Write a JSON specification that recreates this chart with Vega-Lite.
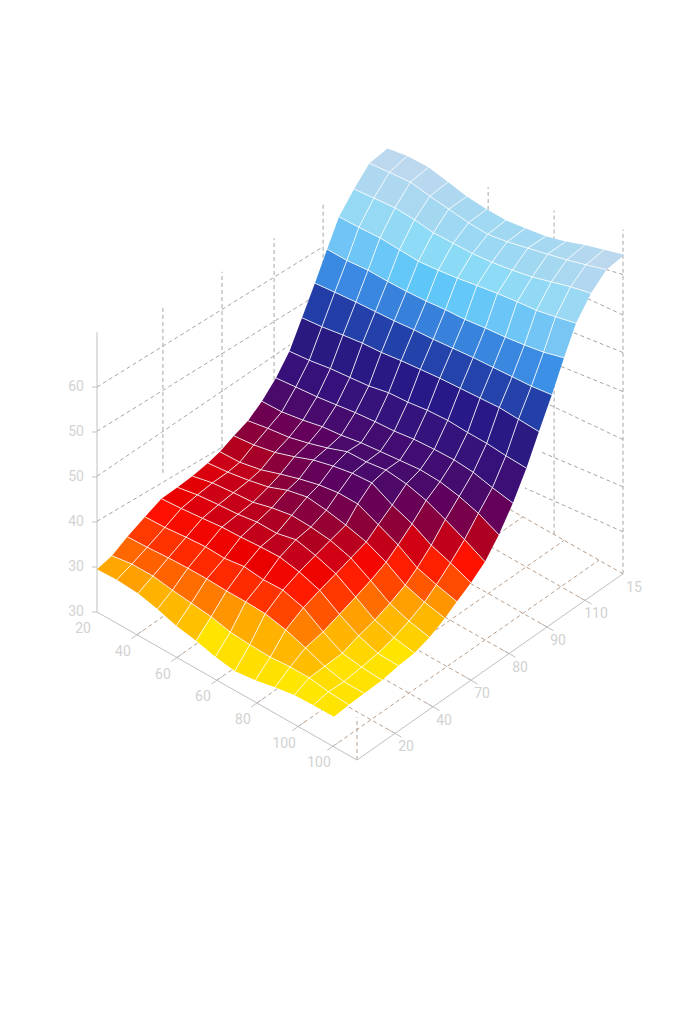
{"$schema":"https://vega.github.io/schema/vega-lite/v6.json","width":683,"height":1024,"padding":0,"autosize":{"type":"none"},"background":"white","config":{"view":{"stroke":null}},
"datasets":{
"labels":[
{"a":"z","t":"60","x":20,"y":0,"z":60},{"a":"z","t":"50","x":20,"y":0,"z":54},{"a":"z","t":"50","x":20,"y":0,"z":48},{"a":"z","t":"40","x":20,"y":0,"z":42},{"a":"z","t":"30","x":20,"y":0,"z":36},{"a":"z","t":"30","x":20,"y":0,"z":30},
{"a":"x","t":"20","x":20,"y":0,"z":30},{"a":"x","t":"40","x":32.3,"y":0,"z":30},{"a":"x","t":"60","x":44.6,"y":0,"z":30},{"a":"x","t":"60","x":56.9,"y":0,"z":30},{"a":"x","t":"80","x":69.2,"y":0,"z":30},{"a":"x","t":"100","x":81.9,"y":0,"z":30},{"a":"x","t":"100","x":92.6,"y":0,"z":30},
{"a":"y","t":"20","x":100,"y":20,"z":30},{"a":"y","t":"40","x":100,"y":40,"z":30},{"a":"y","t":"70","x":100,"y":60,"z":30},{"a":"y","t":"80","x":100,"y":80,"z":30},{"a":"y","t":"90","x":100,"y":100,"z":30},{"a":"y","t":"110","x":100,"y":120,"z":30},{"a":"y","t":"15","x":100,"y":140,"z":30}],
"guides":[
{"l":"a1","k":"axis","s":0,"x":20,"y":0,"z":30},{"l":"a1","k":"axis","s":1,"x":20,"y":0,"z":67.3},
{"l":"a2","k":"axis","s":0,"x":20,"y":0,"z":30},{"l":"a2","k":"axis","s":1,"x":100,"y":0,"z":30},
{"l":"a3","k":"axis","s":0,"x":100,"y":0,"z":30},{"l":"a3","k":"axis","s":1,"x":100,"y":140,"z":30},
{"l":"tz60","k":"axis","s":0,"x":20,"y":-2.6,"z":60.46},{"l":"tz60","k":"axis","s":1,"x":20,"y":0,"z":60},
{"l":"tz54","k":"axis","s":0,"x":20,"y":-2.6,"z":54.46},{"l":"tz54","k":"axis","s":1,"x":20,"y":0,"z":54},
{"l":"tz48","k":"axis","s":0,"x":20,"y":-2.6,"z":48.46},{"l":"tz48","k":"axis","s":1,"x":20,"y":0,"z":48},
{"l":"tz42","k":"axis","s":0,"x":20,"y":-2.6,"z":42.46},{"l":"tz42","k":"axis","s":1,"x":20,"y":0,"z":42},
{"l":"tz36","k":"axis","s":0,"x":20,"y":-2.6,"z":36.46},{"l":"tz36","k":"axis","s":1,"x":20,"y":0,"z":36},
{"l":"tz30","k":"axis","s":0,"x":20,"y":-2.6,"z":30.46},{"l":"tz30","k":"axis","s":1,"x":20,"y":0,"z":30},
{"l":"tx1","k":"axis","s":0,"x":32.3,"y":-3,"z":30},{"l":"tx1","k":"axis","s":1,"x":32.3,"y":3,"z":30},
{"l":"tx2","k":"axis","s":0,"x":44.6,"y":-3,"z":30},{"l":"tx2","k":"axis","s":1,"x":44.6,"y":3,"z":30},
{"l":"tx3","k":"axis","s":0,"x":56.9,"y":-3,"z":30},{"l":"tx3","k":"axis","s":1,"x":56.9,"y":3,"z":30},
{"l":"tx4","k":"axis","s":0,"x":69.2,"y":-3,"z":30},{"l":"tx4","k":"axis","s":1,"x":69.2,"y":3,"z":30},
{"l":"tx5","k":"axis","s":0,"x":81.9,"y":-3,"z":30},{"l":"tx5","k":"axis","s":1,"x":81.9,"y":3,"z":30},
{"l":"tx6","k":"axis","s":0,"x":92.6,"y":-3,"z":30},{"l":"tx6","k":"axis","s":1,"x":92.6,"y":3,"z":30},
{"l":"ty1","k":"axis","s":0,"x":102,"y":20,"z":30},{"l":"ty1","k":"axis","s":1,"x":98,"y":20,"z":30},
{"l":"ty2","k":"axis","s":0,"x":102,"y":40,"z":30},{"l":"ty2","k":"axis","s":1,"x":98,"y":40,"z":30},
{"l":"ty3","k":"axis","s":0,"x":102,"y":60,"z":30},{"l":"ty3","k":"axis","s":1,"x":98,"y":60,"z":30},
{"l":"ty4","k":"axis","s":0,"x":102,"y":80,"z":30},{"l":"ty4","k":"axis","s":1,"x":98,"y":80,"z":30},
{"l":"ty5","k":"axis","s":0,"x":102,"y":100,"z":30},{"l":"ty5","k":"axis","s":1,"x":98,"y":100,"z":30},
{"l":"ty6","k":"axis","s":0,"x":102,"y":120,"z":30},{"l":"ty6","k":"axis","s":1,"x":98,"y":120,"z":30},
{"l":"w1","k":"wall","s":0,"x":20,"y":0,"z":60},{"l":"w1","k":"wall","s":1,"x":20,"y":119,"z":57.6},
{"l":"w2","k":"wall","s":0,"x":20,"y":0,"z":54.1},{"l":"w2","k":"wall","s":1,"x":20,"y":113.7,"z":51.8},
{"l":"w3","k":"wall","s":0,"x":20,"y":0,"z":48.1},{"l":"w3","k":"wall","s":1,"x":20,"y":101.6,"z":47.6},
{"l":"w4","k":"wall","s":0,"x":20,"y":0,"z":42.1},{"l":"w4","k":"wall","s":1,"x":20,"y":65.8,"z":40.3},
{"l":"v1","k":"wall","s":0,"x":20,"y":34.7,"z":42.4},{"l":"v1","k":"wall","s":1,"x":20,"y":34.7,"z":64.5},
{"l":"v2","k":"wall","s":0,"x":20,"y":65.8,"z":40.2},{"l":"v2","k":"wall","s":1,"x":20,"y":65.8,"z":63.7},
{"l":"v3","k":"wall","s":0,"x":20,"y":93.2,"z":44.4},{"l":"v3","k":"wall","s":1,"x":20,"y":93.2,"z":63.3},
{"l":"v4","k":"wall","s":0,"x":20,"y":119,"z":55.2},{"l":"v4","k":"wall","s":1,"x":20,"y":119,"z":63.2},
{"l":"v5","k":"wall","s":0,"x":100,"y":140,"z":30},{"l":"v5","k":"wall","s":1,"x":100,"y":140,"z":75.9},
{"l":"v6","k":"wall","s":0,"x":78.8,"y":140,"z":30},{"l":"v6","k":"wall","s":1,"x":78.8,"y":140,"z":73.2},
{"l":"v7","k":"wall","s":0,"x":58.5,"y":140,"z":30},{"l":"v7","k":"wall","s":1,"x":58.5,"y":140,"z":71.3},
{"l":"v8","k":"floor","s":0,"x":100,"y":0,"z":30},{"l":"v8","k":"floor","s":1,"x":100,"y":0,"z":35.7},
{"l":"r1","k":"wall","s":0,"x":100,"y":140,"z":69.9},{"l":"r1","k":"wall","s":1,"x":93.2,"y":140,"z":69.1},
{"l":"r2","k":"wall","s":0,"x":100,"y":140,"z":64.5},{"l":"r2","k":"wall","s":1,"x":86.8,"y":140,"z":63.9},
{"l":"r3","k":"wall","s":0,"x":100,"y":140,"z":59.5},{"l":"r3","k":"wall","s":1,"x":80.6,"y":140,"z":58.1},
{"l":"r4","k":"wall","s":0,"x":100,"y":140,"z":54.3},{"l":"r4","k":"wall","s":1,"x":77.5,"y":140,"z":52.7},
{"l":"r5","k":"wall","s":0,"x":100,"y":140,"z":47.9},{"l":"r5","k":"wall","s":1,"x":76,"y":140,"z":46.9},
{"l":"r6","k":"wall","s":0,"x":100,"y":140,"z":41.6},{"l":"r6","k":"wall","s":1,"x":74.5,"y":140,"z":40},
{"l":"r7","k":"wall","s":0,"x":100,"y":140,"z":35.6},{"l":"r7","k":"wall","s":1,"x":69.8,"y":140,"z":34},
{"l":"f1","k":"floor","s":0,"x":100,"y":20,"z":30},{"l":"f1","k":"floor","s":1,"x":20,"y":20,"z":30},
{"l":"f2","k":"floor","s":0,"x":100,"y":40,"z":30},{"l":"f2","k":"floor","s":1,"x":20,"y":40,"z":30},
{"l":"f3","k":"floor","s":0,"x":100,"y":60,"z":30},{"l":"f3","k":"floor","s":1,"x":20,"y":60,"z":30},
{"l":"f4","k":"floor","s":0,"x":100,"y":80,"z":30},{"l":"f4","k":"floor","s":1,"x":20,"y":80,"z":30},
{"l":"f5","k":"floor","s":0,"x":100,"y":100,"z":30},{"l":"f5","k":"floor","s":1,"x":20,"y":100,"z":30},
{"l":"f6","k":"floor","s":0,"x":100,"y":120,"z":30},{"l":"f6","k":"floor","s":1,"x":20,"y":120,"z":30},
{"l":"f7","k":"floor","s":0,"x":100,"y":140,"z":30},{"l":"f7","k":"floor","s":1,"x":20,"y":140,"z":30},
{"l":"g1","k":"floor","s":0,"x":32.3,"y":0,"z":30},{"l":"g1","k":"floor","s":1,"x":32.3,"y":140,"z":30},
{"l":"g2","k":"floor","s":0,"x":44.6,"y":0,"z":30},{"l":"g2","k":"floor","s":1,"x":44.6,"y":140,"z":30},
{"l":"g3","k":"floor","s":0,"x":56.9,"y":0,"z":30},{"l":"g3","k":"floor","s":1,"x":56.9,"y":140,"z":30},
{"l":"g4","k":"floor","s":0,"x":69.2,"y":0,"z":30},{"l":"g4","k":"floor","s":1,"x":69.2,"y":140,"z":30},
{"l":"g5","k":"floor","s":0,"x":81.9,"y":0,"z":30},{"l":"g5","k":"floor","s":1,"x":81.9,"y":140,"z":30},
{"l":"g6","k":"floor","s":0,"x":92.6,"y":0,"z":30},{"l":"g6","k":"floor","s":1,"x":92.6,"y":140,"z":30}],
"surface":[
{"c":0,"r":0,"x":20,"y":0,"z":35.7},{"c":1,"r":0,"x":26.1,"y":0,"z":35.8},{"c":2,"r":0,"x":32.6,"y":0,"z":35.6},{"c":3,"r":0,"x":38.6,"y":0,"z":35},{"c":4,"r":0,"x":44.4,"y":0,"z":34.2},{"c":5,"r":0,"x":50.5,"y":0,"z":33.7},{"c":6,"r":0,"x":56.4,"y":0,"z":33},{"c":7,"r":0,"x":62.4,"y":0,"z":32.6},{"c":8,"r":0,"x":68.7,"y":0,"z":32.9},{"c":9,"r":0,"x":74.8,"y":0,"z":33.5},{"c":10,"r":0,"x":80.7,"y":0,"z":33.9},{"c":11,"r":0,"x":86.6,"y":0,"z":34},{"c":12,"r":0,"x":92.9,"y":0,"z":34},
{"c":0,"r":1,"x":20,"y":7.9,"z":36.1},{"c":1,"r":1,"x":26.1,"y":7.9,"z":36.5},{"c":2,"r":1,"x":32.6,"y":7.9,"z":36.5},{"c":3,"r":1,"x":38.6,"y":7.9,"z":36.1},{"c":4,"r":1,"x":44.4,"y":7.9,"z":35.8},{"c":5,"r":1,"x":50.5,"y":7.9,"z":35.5},{"c":6,"r":1,"x":56.4,"y":7.9,"z":34.9},{"c":7,"r":1,"x":62.4,"y":7.9,"z":34.7},{"c":8,"r":1,"x":68.7,"y":7.9,"z":34.6},{"c":9,"r":1,"x":74.8,"y":7.9,"z":34.8},{"c":10,"r":1,"x":80.7,"y":7.9,"z":34.8},{"c":11,"r":1,"x":86.6,"y":7.9,"z":34.4},{"c":12,"r":1,"x":92.9,"y":7.9,"z":34.2},
{"c":0,"r":2,"x":20,"y":16,"z":37.2},{"c":1,"r":2,"x":26.1,"y":16,"z":37.3},{"c":2,"r":2,"x":32.6,"y":16,"z":37.5},{"c":3,"r":2,"x":38.6,"y":16,"z":37.6},{"c":4,"r":2,"x":44.4,"y":16,"z":37.6},{"c":5,"r":2,"x":50.5,"y":16,"z":37.5},{"c":6,"r":2,"x":56.4,"y":16,"z":37.5},{"c":7,"r":2,"x":62.4,"y":16,"z":37.4},{"c":8,"r":2,"x":68.7,"y":16,"z":36.8},{"c":9,"r":2,"x":74.8,"y":16,"z":35.9},{"c":10,"r":2,"x":80.7,"y":16,"z":34.9},{"c":11,"r":2,"x":86.6,"y":16,"z":34.3},{"c":12,"r":2,"x":92.9,"y":16,"z":34.3},
{"c":0,"r":3,"x":20,"y":25.3,"z":38.2},{"c":1,"r":3,"x":26.1,"y":25.3,"z":38.3},{"c":2,"r":3,"x":32.6,"y":25.3,"z":38.6},{"c":3,"r":3,"x":38.6,"y":25.3,"z":38.8},{"c":4,"r":3,"x":44.4,"y":25.3,"z":38.7},{"c":5,"r":3,"x":50.5,"y":25.3,"z":39.1},{"c":6,"r":3,"x":56.4,"y":25.3,"z":38.8},{"c":7,"r":3,"x":62.4,"y":25.3,"z":38.9},{"c":8,"r":3,"x":68.7,"y":25.3,"z":38.1},{"c":9,"r":3,"x":74.8,"y":25.3,"z":36.4},{"c":10,"r":3,"x":80.7,"y":25.3,"z":35},{"c":11,"r":3,"x":86.6,"y":25.3,"z":34.6},{"c":12,"r":3,"x":92.9,"y":25.3,"z":34.4},
{"c":0,"r":4,"x":20,"y":33.9,"z":39.1},{"c":1,"r":4,"x":26.1,"y":33.9,"z":39.3},{"c":2,"r":4,"x":32.6,"y":33.9,"z":39.6},{"c":3,"r":4,"x":38.6,"y":33.9,"z":39.9},{"c":4,"r":4,"x":44.4,"y":33.9,"z":40},{"c":5,"r":4,"x":50.5,"y":33.9,"z":40.2},{"c":6,"r":4,"x":56.4,"y":33.9,"z":40.3},{"c":7,"r":4,"x":62.4,"y":33.9,"z":39.8},{"c":8,"r":4,"x":68.7,"y":33.9,"z":38.9},{"c":9,"r":4,"x":74.8,"y":33.9,"z":37.2},{"c":10,"r":4,"x":80.7,"y":33.9,"z":35.8},{"c":11,"r":4,"x":86.6,"y":33.9,"z":34.9},{"c":12,"r":4,"x":92.9,"y":33.9,"z":34.8},
{"c":0,"r":5,"x":20,"y":42.4,"z":39.1},{"c":1,"r":5,"x":26.1,"y":42.4,"z":39.6},{"c":2,"r":5,"x":32.6,"y":42.4,"z":39.9},{"c":3,"r":5,"x":38.6,"y":42.4,"z":40.1},{"c":4,"r":5,"x":44.4,"y":42.4,"z":40.5},{"c":5,"r":5,"x":50.5,"y":42.4,"z":40.5},{"c":6,"r":5,"x":56.4,"y":42.4,"z":41.1},{"c":7,"r":5,"x":62.4,"y":42.4,"z":40.5},{"c":8,"r":5,"x":68.7,"y":42.4,"z":39.6},{"c":9,"r":5,"x":74.8,"y":42.4,"z":38},{"c":10,"r":5,"x":80.7,"y":42.4,"z":36.4},{"c":11,"r":5,"x":86.6,"y":42.4,"z":35.5},{"c":12,"r":5,"x":92.9,"y":42.4,"z":35},
{"c":0,"r":6,"x":20,"y":50.3,"z":39.2},{"c":1,"r":6,"x":26.1,"y":50.3,"z":39.8},{"c":2,"r":6,"x":32.6,"y":50.3,"z":40.1},{"c":3,"r":6,"x":38.6,"y":50.3,"z":40.3},{"c":4,"r":6,"x":44.4,"y":50.3,"z":41},{"c":5,"r":6,"x":50.5,"y":50.3,"z":41.5},{"c":6,"r":6,"x":56.4,"y":50.3,"z":41.4},{"c":7,"r":6,"x":62.4,"y":50.3,"z":41.1},{"c":8,"r":6,"x":68.7,"y":50.3,"z":40.3},{"c":9,"r":6,"x":74.8,"y":50.3,"z":38.8},{"c":10,"r":6,"x":80.7,"y":50.3,"z":37.2},{"c":11,"r":6,"x":86.6,"y":50.3,"z":36.3},{"c":12,"r":6,"x":92.9,"y":50.3,"z":35.7},
{"c":0,"r":7,"x":20,"y":58.4,"z":39.5},{"c":1,"r":7,"x":26.1,"y":58.4,"z":39.8},{"c":2,"r":7,"x":32.6,"y":58.4,"z":40.3},{"c":3,"r":7,"x":38.6,"y":58.4,"z":40.9},{"c":4,"r":7,"x":44.4,"y":58.4,"z":41.9},{"c":5,"r":7,"x":50.5,"y":58.4,"z":42.5},{"c":6,"r":7,"x":56.4,"y":58.4,"z":42.2},{"c":7,"r":7,"x":62.4,"y":58.4,"z":41.7},{"c":8,"r":7,"x":68.7,"y":58.4,"z":41},{"c":9,"r":7,"x":74.8,"y":58.4,"z":39.8},{"c":10,"r":7,"x":80.7,"y":58.4,"z":38.2},{"c":11,"r":7,"x":86.6,"y":58.4,"z":37.4},{"c":12,"r":7,"x":92.9,"y":58.4,"z":36.8},
{"c":0,"r":8,"x":20,"y":64.7,"z":39.9},{"c":1,"r":8,"x":26.1,"y":64.7,"z":40},{"c":2,"r":8,"x":32.6,"y":64.7,"z":40.6},{"c":3,"r":8,"x":38.6,"y":64.7,"z":41.5},{"c":4,"r":8,"x":44.4,"y":64.7,"z":42.3},{"c":5,"r":8,"x":50.5,"y":64.7,"z":43},{"c":6,"r":8,"x":56.4,"y":64.7,"z":43.4},{"c":7,"r":8,"x":62.4,"y":64.7,"z":43.4},{"c":8,"r":8,"x":68.7,"y":64.7,"z":42.2},{"c":9,"r":8,"x":74.8,"y":64.7,"z":41},{"c":10,"r":8,"x":80.7,"y":64.7,"z":39.4},{"c":11,"r":8,"x":86.6,"y":64.7,"z":38.6},{"c":12,"r":8,"x":92.9,"y":64.7,"z":37.9},
{"c":0,"r":9,"x":20,"y":72.1,"z":40.7},{"c":1,"r":9,"x":26.1,"y":72.1,"z":41},{"c":2,"r":9,"x":32.6,"y":72.1,"z":41.6},{"c":3,"r":9,"x":38.6,"y":72.1,"z":42.5},{"c":4,"r":9,"x":44.4,"y":72.1,"z":43.5},{"c":5,"r":9,"x":50.5,"y":72.1,"z":44.2},{"c":6,"r":9,"x":56.4,"y":72.1,"z":44.7},{"c":7,"r":9,"x":62.4,"y":72.1,"z":44.9},{"c":8,"r":9,"x":68.7,"y":72.1,"z":43.5},{"c":9,"r":9,"x":74.8,"y":72.1,"z":42.5},{"c":10,"r":9,"x":80.7,"y":72.1,"z":41.1},{"c":11,"r":9,"x":86.6,"y":72.1,"z":40.2},{"c":12,"r":9,"x":92.9,"y":72.1,"z":39.1},
{"c":0,"r":10,"x":20,"y":79.5,"z":41.4},{"c":1,"r":10,"x":26.1,"y":79.5,"z":41.9},{"c":2,"r":10,"x":32.6,"y":79.5,"z":42.3},{"c":3,"r":10,"x":38.6,"y":79.5,"z":43},{"c":4,"r":10,"x":44.4,"y":79.5,"z":43.8},{"c":5,"r":10,"x":50.5,"y":79.5,"z":44.8},{"c":6,"r":10,"x":56.4,"y":79.5,"z":44.9},{"c":7,"r":10,"x":62.4,"y":79.5,"z":45.3},{"c":8,"r":10,"x":68.7,"y":79.5,"z":45},{"c":9,"r":10,"x":74.8,"y":79.5,"z":44.3},{"c":10,"r":10,"x":80.7,"y":79.5,"z":43.2},{"c":11,"r":10,"x":86.6,"y":79.5,"z":42},{"c":12,"r":10,"x":92.9,"y":79.5,"z":40.6},
{"c":0,"r":11,"x":20,"y":86.8,"z":42.7},{"c":1,"r":11,"x":26.1,"y":86.8,"z":42.8},{"c":2,"r":11,"x":32.6,"y":86.8,"z":43.3},{"c":3,"r":11,"x":38.6,"y":86.8,"z":43.9},{"c":4,"r":11,"x":44.4,"y":86.8,"z":44.2},{"c":5,"r":11,"x":50.5,"y":86.8,"z":44.7},{"c":6,"r":11,"x":56.4,"y":86.8,"z":45},{"c":7,"r":11,"x":62.4,"y":86.8,"z":45.3},{"c":8,"r":11,"x":68.7,"y":86.8,"z":45.6},{"c":9,"r":11,"x":74.8,"y":86.8,"z":45.5},{"c":10,"r":11,"x":80.7,"y":86.8,"z":45},{"c":11,"r":11,"x":86.6,"y":86.8,"z":44.2},{"c":12,"r":11,"x":92.9,"y":86.8,"z":42.9},
{"c":0,"r":12,"x":20,"y":94.2,"z":44.5},{"c":1,"r":12,"x":26.1,"y":94.2,"z":44.8},{"c":2,"r":12,"x":32.6,"y":94.2,"z":45.1},{"c":3,"r":12,"x":38.6,"y":94.2,"z":45.5},{"c":4,"r":12,"x":44.4,"y":94.2,"z":45.9},{"c":5,"r":12,"x":50.5,"y":94.2,"z":46.2},{"c":6,"r":12,"x":56.4,"y":94.2,"z":46.4},{"c":7,"r":12,"x":62.4,"y":94.2,"z":46.8},{"c":8,"r":12,"x":68.7,"y":94.2,"z":47},{"c":9,"r":12,"x":74.8,"y":94.2,"z":47.1},{"c":10,"r":12,"x":80.7,"y":94.2,"z":46.9},{"c":11,"r":12,"x":86.6,"y":94.2,"z":46.3},{"c":12,"r":12,"x":92.9,"y":94.2,"z":45.8},
{"c":0,"r":13,"x":20,"y":101.3,"z":46.8},{"c":1,"r":13,"x":26.1,"y":101.3,"z":47.1},{"c":2,"r":13,"x":32.6,"y":101.3,"z":47.6},{"c":3,"r":13,"x":38.6,"y":101.3,"z":47.9},{"c":4,"r":13,"x":44.4,"y":101.3,"z":48.2},{"c":5,"r":13,"x":50.5,"y":101.3,"z":48.8},{"c":6,"r":13,"x":56.4,"y":101.3,"z":49},{"c":7,"r":13,"x":62.4,"y":101.3,"z":49.4},{"c":8,"r":13,"x":68.7,"y":101.3,"z":49.6},{"c":9,"r":13,"x":74.8,"y":101.3,"z":49.5},{"c":10,"r":13,"x":80.7,"y":101.3,"z":49.5},{"c":11,"r":13,"x":86.6,"y":101.3,"z":49.3},{"c":12,"r":13,"x":92.9,"y":101.3,"z":49.2},
{"c":0,"r":14,"x":20,"y":107.9,"z":50.1},{"c":1,"r":14,"x":26.1,"y":107.9,"z":50.4},{"c":2,"r":14,"x":32.6,"y":107.9,"z":50.9},{"c":3,"r":14,"x":38.6,"y":107.9,"z":51.3},{"c":4,"r":14,"x":44.4,"y":107.9,"z":51.5},{"c":5,"r":14,"x":50.5,"y":107.9,"z":51.9},{"c":6,"r":14,"x":56.4,"y":107.9,"z":52.2},{"c":7,"r":14,"x":62.4,"y":107.9,"z":52.5},{"c":8,"r":14,"x":68.7,"y":107.9,"z":52.7},{"c":9,"r":14,"x":74.8,"y":107.9,"z":52.9},{"c":10,"r":14,"x":80.7,"y":107.9,"z":53.1},{"c":11,"r":14,"x":86.6,"y":107.9,"z":53},{"c":12,"r":14,"x":92.9,"y":107.9,"z":52.9},
{"c":0,"r":15,"x":20,"y":114.7,"z":53.5},{"c":1,"r":15,"x":26.1,"y":114.7,"z":53.8},{"c":2,"r":15,"x":32.6,"y":114.7,"z":54.1},{"c":3,"r":15,"x":38.6,"y":114.7,"z":54.3},{"c":4,"r":15,"x":44.4,"y":114.7,"z":54.5},{"c":5,"r":15,"x":50.5,"y":114.7,"z":54.8},{"c":6,"r":15,"x":56.4,"y":114.7,"z":55},{"c":7,"r":15,"x":62.4,"y":114.7,"z":55.3},{"c":8,"r":15,"x":68.7,"y":114.7,"z":55.6},{"c":9,"r":15,"x":74.8,"y":114.7,"z":55.8},{"c":10,"r":15,"x":80.7,"y":114.7,"z":56},{"c":11,"r":15,"x":86.6,"y":114.7,"z":56.2},{"c":12,"r":15,"x":92.9,"y":114.7,"z":56.6},
{"c":0,"r":16,"x":20,"y":121.1,"z":56.9},{"c":1,"r":16,"x":26.1,"y":121.1,"z":56.9},{"c":2,"r":16,"x":32.6,"y":121.1,"z":57.2},{"c":3,"r":16,"x":38.6,"y":121.1,"z":57.2},{"c":4,"r":16,"x":44.4,"y":121.1,"z":57.3},{"c":5,"r":16,"x":50.5,"y":121.1,"z":57.5},{"c":6,"r":16,"x":56.4,"y":121.1,"z":57.8},{"c":7,"r":16,"x":62.4,"y":121.1,"z":58},{"c":8,"r":16,"x":68.7,"y":121.1,"z":58.4},{"c":9,"r":16,"x":74.8,"y":121.1,"z":58.7},{"c":10,"r":16,"x":80.7,"y":121.1,"z":59.1},{"c":11,"r":16,"x":86.6,"y":121.1,"z":59.6},{"c":12,"r":16,"x":92.9,"y":121.1,"z":60.4},
{"c":0,"r":17,"x":20,"y":127.4,"z":60.1},{"c":1,"r":17,"x":26.1,"y":127.4,"z":60.2},{"c":2,"r":17,"x":32.6,"y":127.4,"z":60.4},{"c":3,"r":17,"x":38.6,"y":127.4,"z":60.3},{"c":4,"r":17,"x":44.4,"y":127.4,"z":60.2},{"c":5,"r":17,"x":50.5,"y":127.4,"z":60.5},{"c":6,"r":17,"x":56.4,"y":127.4,"z":60.9},{"c":7,"r":17,"x":62.4,"y":127.4,"z":61.4},{"c":8,"r":17,"x":68.7,"y":127.4,"z":61.9},{"c":9,"r":17,"x":74.8,"y":127.4,"z":62.3},{"c":10,"r":17,"x":80.7,"y":127.4,"z":62.6},{"c":11,"r":17,"x":86.6,"y":127.4,"z":63.2},{"c":12,"r":17,"x":92.9,"y":127.4,"z":63.9},
{"c":0,"r":18,"x":20,"y":135.3,"z":62.4},{"c":1,"r":18,"x":26.1,"y":135.3,"z":62.7},{"c":2,"r":18,"x":32.6,"y":135.3,"z":63},{"c":3,"r":18,"x":38.6,"y":135.3,"z":62.9},{"c":4,"r":18,"x":44.4,"y":135.3,"z":62.6},{"c":5,"r":18,"x":50.5,"y":135.3,"z":62.7},{"c":6,"r":18,"x":56.4,"y":135.3,"z":62.8},{"c":7,"r":18,"x":62.4,"y":135.3,"z":63.1},{"c":8,"r":18,"x":68.7,"y":135.3,"z":63.6},{"c":9,"r":18,"x":74.8,"y":135.3,"z":64.2},{"c":10,"r":18,"x":80.7,"y":135.3,"z":65},{"c":11,"r":18,"x":86.6,"y":135.3,"z":65.8},{"c":12,"r":18,"x":92.9,"y":135.3,"z":66.5},
{"c":0,"r":19,"x":20,"y":143.4,"z":64.4},{"c":1,"r":19,"x":26.1,"y":143.4,"z":64.7},{"c":2,"r":19,"x":32.6,"y":143.4,"z":65},{"c":3,"r":19,"x":38.6,"y":143.4,"z":64.6},{"c":4,"r":19,"x":44.4,"y":143.4,"z":64.3},{"c":5,"r":19,"x":50.5,"y":143.4,"z":64},{"c":6,"r":19,"x":56.4,"y":143.4,"z":63.9},{"c":7,"r":19,"x":62.4,"y":143.4,"z":64.4},{"c":8,"r":19,"x":68.7,"y":143.4,"z":65.1},{"c":9,"r":19,"x":74.8,"y":143.4,"z":65.8},{"c":10,"r":19,"x":80.7,"y":143.4,"z":66.5},{"c":11,"r":19,"x":86.6,"y":143.4,"z":67.3},{"c":12,"r":19,"x":92.9,"y":143.4,"z":68.2},
{"c":0,"r":20,"x":20,"y":152.9,"z":64.7},{"c":1,"r":20,"x":26.1,"y":152.9,"z":65.2},{"c":2,"r":20,"x":32.6,"y":152.9,"z":65.3},{"c":3,"r":20,"x":38.6,"y":152.9,"z":64.8},{"c":4,"r":20,"x":44.4,"y":152.9,"z":64.3},{"c":5,"r":20,"x":50.5,"y":152.9,"z":64.1},{"c":6,"r":20,"x":56.4,"y":152.9,"z":64.1},{"c":7,"r":20,"x":62.4,"y":152.9,"z":64.5},{"c":8,"r":20,"x":68.7,"y":152.9,"z":65},{"c":9,"r":20,"x":74.8,"y":152.9,"z":65.8},{"c":10,"r":20,"x":80.7,"y":152.9,"z":66.8},{"c":11,"r":20,"x":86.6,"y":152.9,"z":67.6},{"c":12,"r":20,"x":92.9,"y":152.9,"z":68.5}]
},
"transform":[],
"encoding":{"x":{"field":"sx","type":"quantitative","axis":null,"scale":{"domain":[0,683],"nice":false,"zero":false}},"y":{"field":"sy","type":"quantitative","axis":null,"scale":{"domain":[1024,0],"nice":false,"zero":false}}},
"layer":[
{"data":{"name":"guides"},"transform":[{"filter":"datum.k!=='axis'"},{"calculate":"97+3.25*(datum.x-20)+1.9*datum.y","as":"sx"},{"calculate":"612+1.85*(datum.x-20)-1.33*datum.y-7.5*(datum.z-30)","as":"sy"}],
"mark":{"type":"line","strokeWidth":1,"strokeDash":[4,3]},
"encoding":{"detail":{"field":"l","type":"nominal"},"order":{"field":"s","type":"quantitative"},"color":{"field":"k","type":"nominal","legend":null,"scale":{"domain":["wall","floor"],"range":["#a6a6a6","#b89f8c"]}}}},
{"data":{"name":"guides"},"transform":[{"filter":"datum.k==='axis'"},{"calculate":"97+3.25*(datum.x-20)+1.9*datum.y","as":"sx"},{"calculate":"612+1.85*(datum.x-20)-1.33*datum.y-7.5*(datum.z-30)","as":"sy"}],
"mark":{"type":"line","strokeWidth":1,"color":"#c2bfbf"},
"encoding":{"detail":{"field":"l","type":"nominal"},"order":{"field":"s","type":"quantitative"}}},
{"data":{"name":"surface"},"transform":[
{"calculate":"[0,1,2,3]","as":"corner"},{"flatten":["corner"]},
{"calculate":"datum.c-((datum.corner===1||datum.corner===2)?1:0)","as":"cc"},
{"calculate":"datum.r-(datum.corner>=2?1:0)","as":"rr"},
{"filter":"datum.cc>=0&&datum.cc<12&&datum.rr>=0&&datum.rr<20"},
{"calculate":"datum.rr*100+datum.cc","as":"cell"},
{"calculate":"datum.z-(datum.x-20)/72.9*(datum.y/153)*3.8","as":"shade"},
{"joinaggregate":[{"op":"mean","field":"shade","as":"shadeMean"}],"groupby":["cell"]},
{"calculate":"97+3.25*(datum.x-20)+1.9*datum.y","as":"sx"},{"calculate":"612+1.85*(datum.x-20)-1.33*datum.y-7.5*(datum.z-30)","as":"sy"}],
"mark":{"type":"line","filled":true,"strokeWidth":0},
"encoding":{"detail":{"field":"cell","type":"nominal"},"order":{"field":"corner","type":"quantitative"},
"fill":{"field":"shadeMean","type":"quantitative","legend":null,"scale":{"type":"linear","clamp":true,"domain":[33,34.2,34.8,35.9,36.6,37.2,38,38.7,39.3,39.8,40.4,41,42,43.6,45.7,48.5,50,52,54,55.2,56.5,57.8,58.7,60,61.5,63,64.5],"range":["#ffd500","#ffe600","#ffbe00","#ffb000","#ff7000","#ff5000","#ff2a00","#ff1000","#e80000","#c80018","#b00020","#8f0035","#70004f","#4a0a6a","#38107a","#2a1a80","#24188c","#2340a8","#2d5cbc","#3c8ce4","#42a4f2","#62c8f8","#78c4f4","#88dcf8","#98d8f4","#a8d8f0","#bcd8ee"]}}}},
{"data":{"name":"surface"},"transform":[{"calculate":"97+3.25*(datum.x-20)+1.9*datum.y","as":"sx"},{"calculate":"612+1.85*(datum.x-20)-1.33*datum.y-7.5*(datum.z-30)","as":"sy"},{"filter":"datum.r>0&&datum.r<20"}],
"mark":{"type":"line","stroke":"#ffffff","strokeWidth":1,"opacity":0.8},
"encoding":{"detail":{"field":"r","type":"nominal"},"order":{"field":"c","type":"quantitative"}}},
{"data":{"name":"surface"},"transform":[{"calculate":"97+3.25*(datum.x-20)+1.9*datum.y","as":"sx"},{"calculate":"612+1.85*(datum.x-20)-1.33*datum.y-7.5*(datum.z-30)","as":"sy"},{"filter":"datum.c>0&&datum.c<12"}],
"mark":{"type":"line","stroke":"#ffffff","strokeWidth":1,"opacity":0.8},
"encoding":{"detail":{"field":"c","type":"nominal"},"order":{"field":"r","type":"quantitative"}}},
{"data":{"name":"labels"},"transform":[{"filter":"datum.a==='z'"},{"calculate":"97+3.25*(datum.x-20)+1.9*datum.y","as":"sx"},{"calculate":"612+1.85*(datum.x-20)-1.33*datum.y-7.5*(datum.z-30)","as":"sy"}],
"mark":{"type":"text","font":"Roboto","fontSize":14,"color":"#d2d2d2","dx":-21,"dy":0,"align":"center","baseline":"middle"},"encoding":{"text":{"field":"t","type":"nominal"}}},
{"data":{"name":"labels"},"transform":[{"filter":"datum.a==='x'"},{"calculate":"97+3.25*(datum.x-20)+1.9*datum.y","as":"sx"},{"calculate":"612+1.85*(datum.x-20)-1.33*datum.y-7.5*(datum.z-30)","as":"sy"}],
"mark":{"type":"text","font":"Roboto","fontSize":14,"color":"#d2d2d2","dx":-14,"dy":17,"align":"center","baseline":"middle"},"encoding":{"text":{"field":"t","type":"nominal"}}},
{"data":{"name":"labels"},"transform":[{"filter":"datum.a==='y'"},{"calculate":"97+3.25*(datum.x-20)+1.9*datum.y","as":"sx"},{"calculate":"612+1.85*(datum.x-20)-1.33*datum.y-7.5*(datum.z-30)","as":"sy"}],
"mark":{"type":"text","font":"Roboto","fontSize":14,"color":"#d2d2d2","dx":11,"dy":14,"align":"center","baseline":"middle"},"encoding":{"text":{"field":"t","type":"nominal"}}}
]}
